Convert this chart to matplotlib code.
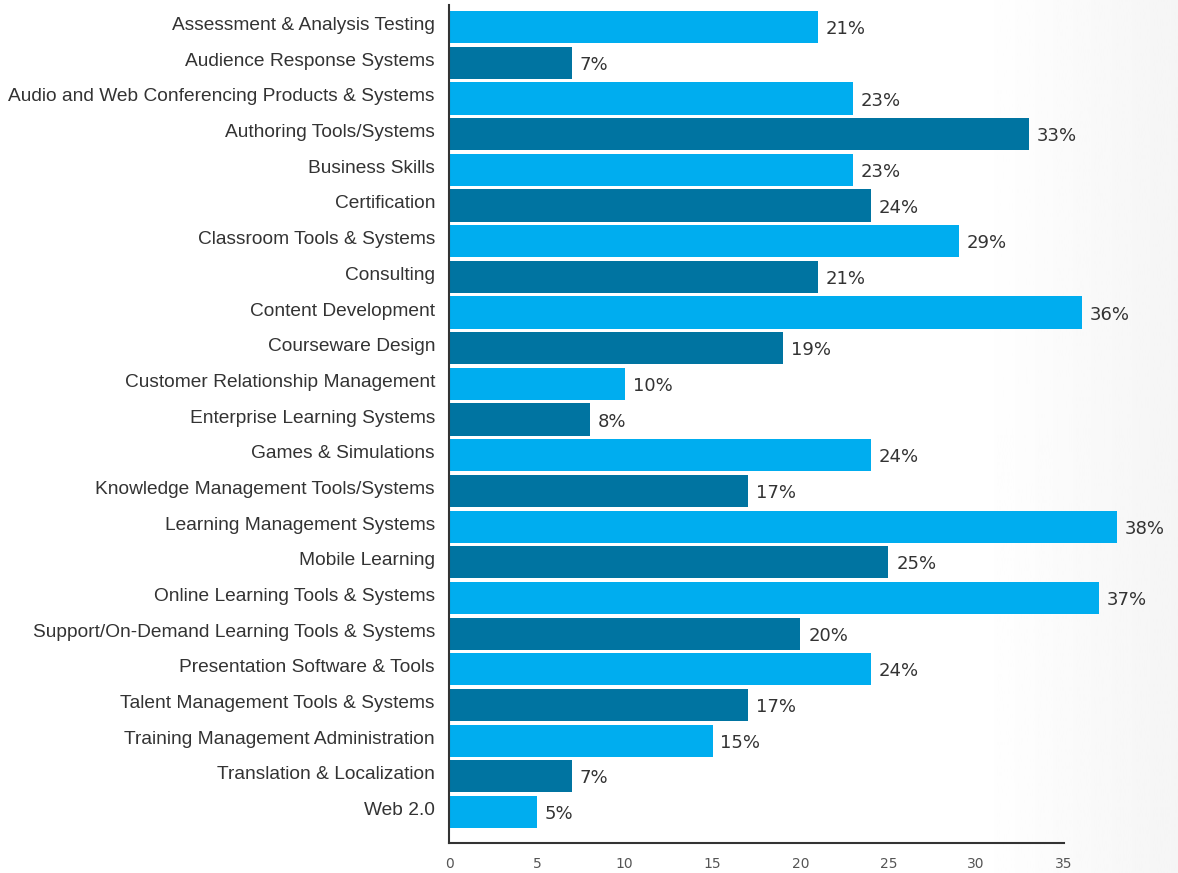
import numpy as np
import matplotlib.pyplot as plt
from matplotlib.transforms import ScaledTranslation

categories = [
    "Assessment & Analysis Testing",
    "Audience Response Systems",
    "Audio and Web Conferencing Products & Systems",
    "Authoring Tools/Systems",
    "Business Skills",
    "Certification",
    "Classroom Tools & Systems",
    "Consulting",
    "Content Development",
    "Courseware Design",
    "Customer Relationship Management",
    "Enterprise Learning Systems",
    "Games & Simulations",
    "Knowledge Management Tools/Systems",
    "Learning Management Systems",
    "Mobile Learning",
    "Online Learning Tools & Systems",
    "Support/On-Demand Learning Tools & Systems",
    "Presentation Software & Tools",
    "Talent Management Tools & Systems",
    "Training Management Administration",
    "Translation & Localization",
    "Web 2.0",
]
values = [21, 7, 23, 33, 23, 24, 29, 21, 36, 19, 10, 8, 24, 17, 38, 25, 37, 20, 24, 17, 15, 7, 5]
xticks = [0, 5, 10, 15, 20, 25, 30, 35]

light = "#00adef"
dark = "#0074a1"
colors = [light if i % 2 == 0 else dark for i in range(len(values))]

plt.rcParams['font.family'] = ['Liberation Sans', 'DejaVu Sans']

fig = plt.figure(figsize=(11.78, 8.73), dpi=100)

# faint grey wash on the right side
bg = fig.add_axes([0, 0, 1, 1], zorder=-10)
grad = np.clip((np.linspace(0, 1, 400) - 0.83) / 0.17, 0, 1)
bg.imshow(1 - 0.04 * grad[None, :], cmap='gray', vmin=0, vmax=1,
          aspect='auto', extent=[0, 1, 0, 1])
bg.set_axis_off()

ax = fig.add_axes([449 / 1178, 30 / 873, 615 / 1178, 838 / 873])
ax.patch.set_alpha(0)
y = np.arange(len(values))
ax.barh(y, values, height=0.9, color=colors, clip_on=False)

# category labels sit a little above the bar centre
lab_tr = ax.get_yaxis_transform() + ScaledTranslation(-14 / 100, 1.5 / 100, fig.dpi_scale_trans)
for yi, name in zip(y, categories):
    ax.text(0, yi, name, transform=lab_tr, ha='right', va='center',
            fontsize=13.8, color='#333333')

for yi, v in zip(y, values):
    ax.text(v + 0.45, yi + 0.06, f"{v}%", va='center', ha='left',
            fontsize=13, color='#333333', family='DejaVu Sans', clip_on=False)

ax.set_xlim(0, 35)
ax.set_ylim(len(values) - 1 + 0.87, -0.62)
ax.set_yticks([])
ax.set_xticks(xticks)
ax.set_xticklabels([str(t) for t in xticks], fontsize=10, color='#555555',
                   family='DejaVu Sans')
ax.tick_params(axis='x', length=0, pad=10)

for s in ['top', 'right']:
    ax.spines[s].set_visible(False)
for s in ['left', 'bottom']:
    ax.spines[s].set_color('#333333')
    ax.spines[s].set_linewidth(1.5)

fig.savefig('out.png', dpi=100)
